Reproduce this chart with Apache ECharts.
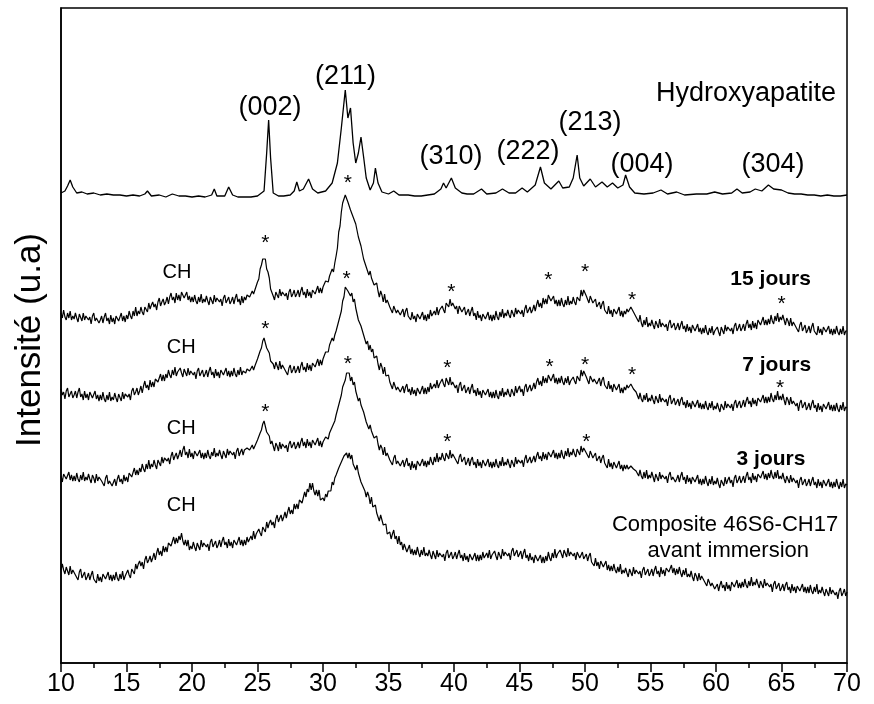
<!DOCTYPE html>
<html>
<head>
<meta charset="utf-8">
<script src="https://cdn.jsdelivr.net/npm/echarts@6/dist/echarts.min.js"></script>
<style>html,body{margin:0;padding:0;background:#fff;}#c{width:874px;height:704px;}</style>
</head>
<body>
<div id="c"></div>
<script>
// 2θ sampling of the noisy scans (10.0 … 70.0)
const X0 = 10, STEP = 0.1;

// Intensities (a.u., stacked offsets included) — 15 jours
const jours15 = [
350,345,353,346,343,350,345,352,343,347,
344,350,345,341,349,347,342,350,343,347,
349,343,346,339,347,350,342,345,347,340,
343,347,340,346,350,342,345,339,348,341,
345,339,347,348,342,343,350,342,347,341,
348,344,352,347,344,352,347,356,347,352,
349,356,351,348,356,355,351,360,354,358,
361,356,359,353,361,365,357,361,364,358,
361,366,359,366,370,363,366,360,370,363,
368,362,371,372,365,366,371,363,367,361,
366,361,368,362,359,366,361,369,360,364,
361,367,362,358,366,364,359,368,361,365,
367,361,364,357,365,368,360,363,366,359,
362,366,359,365,369,361,364,358,367,360,
366,363,368,370,366,367,372,369,373,374,
381,384,394,398,404,404,404,394,391,385,
374,376,367,363,371,370,365,374,367,371,
373,367,370,363,371,374,366,369,373,366,
369,373,366,372,376,368,371,365,374,367,
371,365,373,375,369,370,377,370,375,370,
376,375,382,381,381,387,387,394,391,400,
407,415,431,437,451,460,462,468,468,461,
461,453,455,446,448,439,438,426,427,417,
416,404,406,396,397,388,392,385,387,378,
376,380,372,366,372,368,361,369,360,363,
363,356,358,350,357,359,350,353,355,348,
350,354,346,352,355,347,349,343,351,344,
347,341,349,350,344,345,351,343,348,342,
349,344,353,347,345,352,348,356,348,353,
351,357,353,350,360,360,356,364,357,360,
361,354,357,349,357,359,351,353,356,348,
351,354,347,352,356,347,350,343,352,345,
348,342,349,350,344,345,351,343,348,342,
348,343,352,346,343,351,346,354,345,350,
347,353,348,345,353,351,346,355,349,353,
355,349,353,346,354,358,350,353,356,350,
353,358,352,358,363,356,360,355,365,359,
364,359,368,368,362,362,367,359,363,357,
363,357,365,359,356,363,358,367,358,362,
359,366,361,358,366,365,362,373,367,373,
374,367,368,360,367,369,360,362,364,356,
358,361,354,359,362,353,355,349,357,349,
353,346,354,355,349,350,356,347,352,346,
352,349,354,351,350,356,357,351,351,346,
347,341,348,340,336,343,338,346,336,340,
337,343,338,334,342,340,335,344,336,340,
342,336,339,332,340,343,335,337,340,333,
336,340,333,338,342,334,337,331,339,332,
336,330,338,338,332,333,339,331,335,329,
335,330,338,331,328,335,330,337,328,332,
330,336,331,327,336,334,329,338,332,336,
338,332,335,329,337,340,332,335,339,332,
335,339,332,339,343,335,339,333,342,335,
340,334,343,344,338,340,346,338,343,338,
344,339,348,342,339,347,342,350,341,346,
343,348,343,338,345,342,337,345,337,341,
342,336,338,331,338,341,332,335,338,330,
333,337,330,336,340,332,334,328,337,330,
334,328,336,337,331,331,337,329,334,328,
334,329,337,331,328,334,329,337,328,332,
332];

// 7 jours
const jours7 = [
274,268,271,264,272,275,266,269,272,265,
268,272,265,271,275,266,269,263,272,265,
269,263,271,271,265,266,272,264,268,262,
268,263,271,264,261,268,263,271,262,266,
263,270,265,261,269,267,262,271,264,269,
271,266,269,263,272,275,268,271,275,268,
272,277,270,277,282,275,278,273,283,276,
281,276,284,286,281,283,289,282,288,282,
289,285,293,288,285,293,288,296,287,291,
289,295,290,286,294,292,287,295,288,292,
294,288,291,284,292,295,287,290,293,286,
289,293,286,292,296,288,291,285,294,287,
291,285,293,294,288,289,295,287,292,286,
292,287,295,289,286,293,288,296,288,292,
292,290,294,295,292,292,297,293,297,298,
304,306,312,315,322,325,323,315,313,310,
302,304,299,294,301,299,293,302,294,298,
299,293,295,288,295,298,290,293,297,290,
293,297,290,297,301,293,296,291,300,293,
298,292,300,301,296,297,304,297,303,298,
304,304,311,311,311,318,318,325,322,328,
332,333,342,341,352,362,366,376,378,372,
374,367,370,361,364,355,355,343,345,337,
338,328,330,319,322,313,318,311,314,305,
303,307,299,293,300,296,289,296,287,288,
288,281,282,274,281,282,273,276,278,271,
274,277,270,276,279,271,274,268,276,269,
273,267,275,276,269,270,277,269,275,269,
276,271,280,274,272,279,275,283,275,279,
277,284,279,276,285,284,278,286,278,281,
282,275,278,270,278,281,272,275,278,270,
273,276,269,275,279,270,273,267,275,268,
272,265,273,274,268,269,274,266,271,265,
271,265,273,267,264,272,267,275,266,271,
268,274,269,266,274,272,267,277,270,274,
277,271,274,267,276,279,271,275,278,272,
275,280,274,281,285,278,282,277,287,280,
285,280,288,288,282,283,289,280,285,279,
285,280,287,281,278,285,280,287,278,282,
280,286,282,279,287,286,282,293,287,292,
293,286,287,279,287,289,281,284,286,279,
281,285,277,283,286,278,280,274,282,274,
278,271,279,279,273,273,279,270,275,270,
276,273,278,275,275,279,279,274,276,271,
271,264,270,264,261,268,263,270,261,265,
262,268,263,259,267,265,260,269,261,265,
267,261,264,257,265,268,259,262,265,258,
260,264,257,263,266,258,261,255,263,256,
260,254,262,262,256,257,263,255,260,254,
259,254,262,256,253,260,255,262,253,257,
254,260,255,251,259,258,253,262,255,259,
261,255,259,252,260,263,255,259,262,255,
258,263,256,262,266,259,262,256,265,259,
263,257,265,267,261,262,268,260,266,260,
266,261,270,264,261,268,263,272,263,267,
263,269,263,258,266,263,258,266,259,262,
264,257,260,252,260,263,255,258,261,253,
256,260,253,259,263,255,258,251,260,253,
257,251,259,260,254,255,261,253,258,252,
258,252,260,254,251,258,253,261,252,256,
255];

// 3 jours
const jours3 = [
187,181,189,190,184,185,191,183,188,182,
187,182,190,184,181,188,183,191,182,186,
183,189,184,180,188,185,180,189,182,186,
188,182,184,177,185,188,179,182,184,177,
179,184,177,184,188,181,184,179,188,182,
186,181,190,191,186,188,195,188,193,188,
195,191,199,194,191,199,194,203,194,199,
196,203,198,194,203,201,197,206,200,205,
207,202,205,199,207,211,203,207,210,204,
208,213,206,213,217,208,211,205,214,206,
210,204,212,213,207,208,213,205,210,204,
210,205,213,207,204,211,207,215,206,210,
207,213,208,204,212,210,205,214,208,212,
214,208,211,204,212,215,207,211,214,208,
213,211,215,217,213,214,218,214,217,217,
223,224,230,233,239,242,240,231,229,227,
219,222,217,212,220,217,212,221,214,219,
221,215,218,211,219,222,215,218,221,214,
217,221,215,221,225,217,221,215,224,217,
221,215,223,224,218,219,225,217,222,216,
221,220,226,225,224,230,230,236,234,242,
248,249,258,258,268,276,278,283,290,289,
290,282,286,278,281,272,273,262,265,258,
259,251,253,241,242,234,238,232,234,225,
223,227,219,213,218,215,208,216,207,210,
210,203,205,198,205,208,199,202,204,197,
199,203,196,201,205,197,200,193,202,195,
199,193,202,203,197,198,204,197,202,196,
202,198,206,201,198,206,201,210,201,206,
203,210,205,202,210,209,204,213,205,209,
210,204,206,199,206,209,201,203,206,198,
201,205,197,203,206,198,201,195,204,197,
201,195,203,203,197,198,204,196,201,195,
201,196,204,198,195,202,197,206,197,201,
198,204,199,195,203,201,196,206,199,203,
205,200,203,196,204,208,200,203,206,200,
203,207,201,207,211,204,207,202,211,204,
209,203,211,212,206,207,213,205,210,204,
210,205,213,207,204,212,207,215,206,211,
208,214,209,206,214,213,208,217,211,215,
217,210,212,205,212,214,205,207,210,202,
204,207,200,205,208,200,202,195,204,196,
200,194,201,202,195,196,202,194,198,192,
198,194,198,194,193,197,197,194,196,192,
193,187,193,187,184,191,185,193,184,188,
185,191,186,181,189,187,182,191,184,188,
190,184,187,180,188,191,183,186,188,181,
184,188,181,187,191,183,186,179,188,181,
185,179,186,187,181,182,188,179,184,178,
184,179,187,181,177,184,179,187,178,182,
179,185,179,175,183,182,177,186,179,183,
186,180,183,176,185,188,180,183,187,180,
183,187,180,187,191,183,186,180,190,183,
187,181,189,191,185,186,192,184,189,183,
190,185,193,187,184,191,185,193,184,187,
184,190,184,180,187,185,180,188,181,185,
186,180,183,175,183,186,178,181,184,177,
180,184,177,182,186,178,181,175,184,177,
181,175,183,183,177,178,184,176,181,175,
181,176,184,178,174,181,176,184,175,179,
178];

// Composite 46S6-CH17 avant immersion
const composite = [
93,99,93,89,96,94,88,97,89,93,
94,88,90,83,91,94,85,88,91,83,
86,90,83,88,92,84,86,80,89,82,
86,81,89,90,84,85,91,83,88,82,
88,83,91,85,82,89,84,92,83,87,
86,93,88,85,94,93,89,99,94,99,
102,97,101,94,103,107,100,103,107,101,
105,110,103,110,115,108,112,107,117,111,
116,111,120,122,117,119,126,119,125,120,
127,123,130,122,118,123,117,123,113,117,
114,121,116,112,120,118,113,123,116,120,
122,116,119,112,121,124,116,119,122,115,
118,123,116,122,126,118,121,115,124,117,
121,115,123,124,118,120,126,118,123,117,
123,118,126,121,119,127,123,132,124,129,
127,134,130,127,136,135,131,141,135,140,
143,138,141,135,144,148,141,145,148,142,
146,151,145,151,156,149,153,149,159,154,
159,154,163,165,160,162,171,166,174,171,
180,173,180,172,168,173,167,173,163,165,
165,162,169,166,172,174,172,181,178,185,
188,186,195,193,201,201,207,205,210,205,
210,204,208,199,201,193,198,190,191,181,
178,180,172,166,171,167,159,166,156,158,
158,150,151,142,148,148,138,138,139,129,
130,131,124,129,133,124,127,119,127,118,
121,113,119,119,111,112,118,109,114,108,
113,108,116,110,106,113,108,116,107,110,
107,113,108,104,112,110,104,113,106,110,
112,106,109,102,110,113,105,108,111,104,
107,111,104,109,113,105,108,102,110,103,
107,101,109,109,103,104,110,102,108,102,
108,103,111,105,103,110,105,113,104,108,
106,112,107,103,111,109,104,114,107,111,
113,107,110,103,112,115,107,110,113,106,
108,112,104,110,114,105,108,102,110,103,
106,100,108,108,102,102,108,100,106,100,
107,102,111,105,102,110,105,114,105,109,
107,113,109,105,113,111,106,115,107,111,
113,107,110,103,111,113,105,108,111,104,
106,109,102,107,110,101,103,97,105,97,
101,94,102,102,96,96,102,93,98,92,
97,92,99,93,90,96,91,99,89,93,
90,95,90,86,94,92,87,96,89,93,
95,89,92,85,93,96,88,91,94,87,
90,94,87,93,97,89,92,86,96,89,
93,87,95,96,91,92,98,90,95,88,
94,89,96,90,86,93,88,95,86,89,
86,92,86,82,90,87,82,90,83,87,
88,82,84,77,84,86,77,80,82,74,
76,79,72,78,82,75,78,72,81,74,
78,72,81,82,76,77,83,75,80,75,
81,76,84,78,75,82,77,86,77,81,
78,84,79,75,82,80,75,84,77,80,
82,76,79,71,79,82,74,77,80,72,
75,79,72,78,81,73,76,70,79,72,
76,70,77,78,72,73,79,71,76,70,
76,70,78,72,69,76,71,79,69,73,
70,76,71,67,74,72,67,76,69,73,
75,68,71,64,72,75,67,70,74,67,
71];

// Hydroxyapatite reference pattern (2θ, intensity)
const haX = [10.0,10.3,10.5,10.7,10.9,11.2,11.6,12.0,12.5,13.0,13.5,14.0,14.5,15.0,15.5,16.0,16.4,16.6,16.9,17.5,18.0,18.5,19.0,19.5,20.0,20.5,21.0,21.5,21.7,21.9,22.5,22.8,23.1,23.5,24.0,24.5,25.0,25.5,25.7,25.85,26.0,26.2,26.6,27.0,27.5,27.8,28.0,28.2,28.5,28.9,29.2,29.6,30.2,30.7,31.1,31.4,31.7,31.9,32.1,32.3,32.5,32.7,32.9,33.1,33.3,33.6,33.85,34.0,34.2,34.5,35.0,35.4,35.8,36.5,37.0,37.5,38.0,38.5,39.0,39.2,39.4,39.8,40.1,40.6,41.0,41.5,42.1,42.5,43.2,43.7,44.2,44.7,45.2,45.6,46.2,46.6,46.9,47.4,48.0,48.3,48.8,49.1,49.4,49.6,49.9,50.4,50.8,51.3,51.7,52.1,52.5,52.9,53.1,53.4,53.8,54.5,55.2,55.8,56.3,57.0,57.6,58.5,59.3,59.9,60.5,61.2,61.6,62.0,62.6,63.0,63.5,64.0,64.4,65.0,65.5,66.0,66.5,67.0,67.5,68.0,68.5,69.0,69.5,70.0];
const haY = [470,472,477,483,476,470,471,469,470,468,469,468,468,467,468,467,469,472,467,468,466,469,467,467,466,467,466,468,474,467,467,476,468,466,466,466,467,472,510,543,505,470,467,467,468,472,481,472,474,484,474,470,472,480,500,535,573,545,555,520,500,510,526,506,485,473,480,495,480,471,469,472,468,468,467,467,468,469,474,480,475,485,475,470,469,469,474,469,470,474,470,470,475,471,478,496,480,474,482,475,476,485,508,485,477,484,476,481,476,480,475,478,488,476,470,469,470,473,469,471,468,469,469,471,469,470,474,470,471,474,472,478,474,473,470,469,469,468,468,467,468,467,467,468];

// Annotations (data coordinates)
const peakNames = ['(002)','(211)','(310)','(222)','(213)','(004)','(304)'];
const peakPos = [[25.95,555],[31.72,586],[39.77,506],[45.65,511],[50.38,540],[54.35,498],[64.35,498]];
const sampleNames = ['Hydroxyapatite'];
const samplePos = [[62.29,569]];
const dayNames = ['15 jours','7 jours','3 jours'];
const dayPos = [[64.17,384],[64.63,298],[64.2,204]];
const compNames = ['Composite 46S6-CH17','avant immersion'];
const compPos = [[60.69,138],[60.94,112]];
const chPos = [[18.85,391],[19.18,316],[19.18,235],[19.18,158]];
const stars15 = [[25.6,425],[31.9,485],[39.8,376],[47.2,388],[50.0,396],[53.6,368],[65.0,364]];
const stars7 = [[25.6,339],[31.8,389],[39.5,300],[47.3,301],[50.0,303],[53.6,293],[64.9,280]];
const stars3 = [[25.6,256],[31.9,304],[39.5,226],[50.1,226]];

const FONT = '"Liberation Sans", Arial, Helvetica, sans-serif';
const toPairs = arr => arr.map((v, i) => [+(X0 + i * STEP).toFixed(2), v]);

function lineSeries(data, w) {
  return {type: 'line', data: data, showSymbol: false, symbol: 'none', silent: true,
    lineStyle: {color: '#000', width: w}, itemStyle: {color: '#000'}, z: 3};
}

const chart = echarts.init(document.getElementById('c'), null, {renderer: 'canvas'});
chart.setOption({
  animation: false,
  backgroundColor: '#fff',
  grid: {left: 61, right: 27, top: 8, bottom: 41, show: true, borderColor: '#000', borderWidth: 1.5, backgroundColor: 'transparent'},
  xAxis: {
    type: 'value', min: 10, max: 70, interval: 5,
    axisLine: {show: true, onZero: false, lineStyle: {color: '#000', width: 1.5}},
    axisTick: {show: true, length: 9, lineStyle: {color: '#000', width: 1.5}},
    minorTick: {show: true, splitNumber: 2, length: 5, lineStyle: {color: '#000', width: 1.5}},
    axisLabel: {fontSize: 25, color: '#000', margin: 9, fontFamily: FONT},
    splitLine: {show: false}
  },
  yAxis: {
    type: 'value', min: 0, max: 655,
    axisLine: {show: true, lineStyle: {color: '#000', width: 1.5}},
    axisTick: {show: false}, axisLabel: {show: false}, splitLine: {show: false}
  },
  series: [
    lineSeries(haX.map((x, i) => [x, haY[i]]), 1.3),
    lineSeries(toPairs(jours15), 1.2),
    lineSeries(toPairs(jours7), 1.2),
    lineSeries(toPairs(jours3), 1.2),
    lineSeries(toPairs(composite), 1.2)
  ]
});

// Text annotations, placed through the chart's own coordinate conversion
const texts = [];
function addTexts(names, pos, font, dy) {
  pos.forEach((p, i) => {
    const px = chart.convertToPixel({gridIndex: 0}, p);
    texts.push({type: 'text', x: px[0], y: px[1] + (dy || 0), z: 10, silent: true,
      style: Object.assign({text: names[i], fill: '#000', fontFamily: FONT, align: 'center', verticalAlign: 'middle'}, font)});
  });
}
addTexts(peakNames, peakPos, {fontSize: 27});
addTexts(sampleNames, samplePos, {fontSize: 27});
addTexts(dayNames, dayPos, {fontSize: 21, fontWeight: 'bold'});
addTexts(compNames, compPos, {fontSize: 22});
addTexts(chPos.map(() => 'CH'), chPos, {fontSize: 20});
addTexts(stars15.map(() => '*'), stars15, {fontSize: 21}, 5);
addTexts(stars7.map(() => '*'), stars7, {fontSize: 21}, 5);
addTexts(stars3.map(() => '*'), stars3, {fontSize: 21}, 5);
texts.push({type: 'text', x: 30, y: 340, rotation: Math.PI / 2, silent: true,
  style: {text: 'Intensité (u.a)', fontSize: 35, fontFamily: FONT, fill: '#000', align: 'center', verticalAlign: 'middle'}});
chart.setOption({graphic: texts});
</script>
</body>
</html>
